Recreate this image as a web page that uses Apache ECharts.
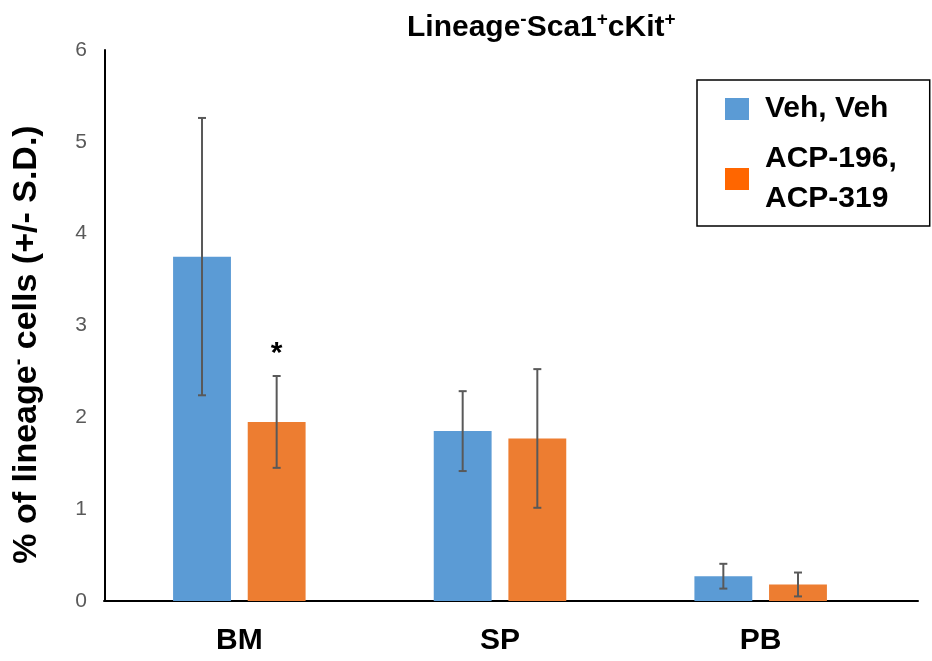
<!DOCTYPE html>
<html>
<head>
<meta charset="utf-8">
<script src="https://cdn.jsdelivr.net/npm/echarts@6/dist/echarts.min.js"></script>
<style>
  html, body { margin: 0; padding: 0; background: #fff; }
  #chart { width: 932px; height: 661px; }
</style>
</head>
<body>
<div id="chart"></div>
<script>
const categories = ['BM', 'SP', 'PB']
const seriesNames = ['Veh, Veh', 'ACP-196,\nACP-319']
const vehMean = [3.75, 1.85, 0.27]
const vehSD = [1.51, 0.435, 0.135]
const acpMean = [1.95, 1.77, 0.18]
const acpSD = [0.5, 0.755, 0.13]
const acpMarks = ['*', '', '']
const vehMarks = ['', '', '']
const yTicks = { min: 0, max: 6, interval: 1 }

const FONT = '"Liberation Sans", Arial, sans-serif'
const BAR_W = 0.222   // share of category band
const BAR_GAP = 0.29  // share of bar width

function errorSeries(means, sds, marks, side) {
  return {
    type: 'custom',
    z: 5,
    data: means.map((m, i) => [i, m, sds[i]]),
    encode: { x: 0, y: 1 },
    silent: true,
    renderItem(params, api) {
      const cat = api.value(0)
      const mean = api.value(1)
      const sd = api.value(2)
      const band = api.size([1, 0])[0]
      const bw = band * BAR_W
      const x = api.coord([cat, 0])[0] + side * bw * (1 + BAR_GAP) / 2
      const top = api.coord([cat, mean + sd])[1]
      const bot = api.coord([cat, mean - sd])[1]
      const ls = { stroke: '#595959', lineWidth: 2 }
      const kids = [
        { type: 'line', shape: { x1: x, y1: top, x2: x, y2: bot }, style: ls },
        { type: 'line', shape: { x1: x - 4, y1: top, x2: x + 4, y2: top }, style: ls },
        { type: 'line', shape: { x1: x - 4, y1: bot, x2: x + 4, y2: bot }, style: ls }
      ]
      const mark = marks[params.dataIndex]
      if (mark) {
        kids.push({
          type: 'text',
          style: {
            text: mark, x: x, y: top - 22,
            font: 'bold 30px ' + FONT,
            align: 'center', verticalAlign: 'middle', fill: '#000'
          }
        })
      }
      return { type: 'group', children: kids }
    }
  }
}

const chart = echarts.init(document.getElementById('chart'))
chart.setOption({
  animation: false,
  backgroundColor: '#fff',
  title: {
    text: '{b|Lineage}{s|-}{b|Sca1}{s|+}{b|cKit}{s|+}',
    left: 402,
    top: 5,
    textStyle: {
      rich: {
        b: { fontSize: 30, fontWeight: 'bold', fontFamily: FONT, color: '#000', lineHeight: 35 },
        s: { fontSize: 19, fontWeight: 'bold', fontFamily: FONT, color: '#000', lineHeight: 19, verticalAlign: 'top' }
      }
    }
  },
  legend: {
    orient: 'vertical',
    left: 697,
    top: 80,
    padding: [9, 33, 7, 28],
    itemGap: 10,
    itemWidth: 24,
    itemHeight: 22,
    borderColor: '#000',
    borderWidth: 1.5,
    icon: 'rect',
    data: [
      { name: seriesNames[0], itemStyle: { color: '#5B9BD5' } },
      { name: seriesNames[1], itemStyle: { color: '#FF6600' } }
    ],
    textStyle: {
      fontSize: 30, fontWeight: 'bold', fontFamily: FONT, color: '#000',
      lineHeight: 40, padding: [0, 0, 0, 11]
    }
  },
  grid: [
    { left: 108, right: 41, top: 50, bottom: 60 },
    { left: 104, right: 14, top: 50, bottom: 60 }
  ],
  xAxis: [
    {
      type: 'category',
      data: categories,
      gridIndex: 0,
      axisLine: { show: false },
      axisTick: { show: false },
      axisLabel: { fontSize: 30, fontWeight: 'bold', fontFamily: FONT, color: '#000', margin: 25 }
    },
    {
      type: 'value',
      gridIndex: 1,
      min: 0, max: 1,
      axisLine: { show: true, lineStyle: { color: '#000', width: 2 } },
      axisTick: { show: false },
      axisLabel: { show: false },
      splitLine: { show: false }
    }
  ],
  yAxis: [
    {
      type: 'value',
      gridIndex: 0,
      min: yTicks.min, max: yTicks.max, interval: yTicks.interval,
      offset: 4,
      name: '{n|% of lineage}{s|-}{n| cells (+/- S.D.)}',
      nameLocation: 'middle',
      nameGap: 59,
      nameTextStyle: {
        padding: [0, 38, 0, 0],
        rich: {
          n: { fontSize: 34, fontWeight: 'bold', fontFamily: FONT, color: '#000', lineHeight: 38 },
          s: { fontSize: 20, fontWeight: 'bold', fontFamily: FONT, color: '#000', lineHeight: 20, verticalAlign: 'top' }
        }
      },
      axisLine: { show: true, lineStyle: { color: '#000', width: 2 } },
      axisTick: { show: false },
      splitLine: { show: false },
      axisLabel: { fontSize: 21, fontFamily: FONT, color: '#595959', margin: 18 }
    },
    {
      type: 'value', gridIndex: 1, show: false, min: 0, max: 1
    }
  ],
  series: [
    {
      name: seriesNames[0], type: 'bar', data: vehMean,
      barWidth: (BAR_W * 100) + '%', barGap: (BAR_GAP * 100) + '%',
      itemStyle: { color: '#5B9BD5' }
    },
    {
      name: seriesNames[1], type: 'bar', data: acpMean,
      barWidth: (BAR_W * 100) + '%', barGap: (BAR_GAP * 100) + '%',
      itemStyle: { color: '#ED7D31' }
    },
    errorSeries(vehMean, vehSD, vehMarks, -1),
    errorSeries(acpMean, acpSD, acpMarks, 1)
  ]
})
</script>
</body>
</html>
